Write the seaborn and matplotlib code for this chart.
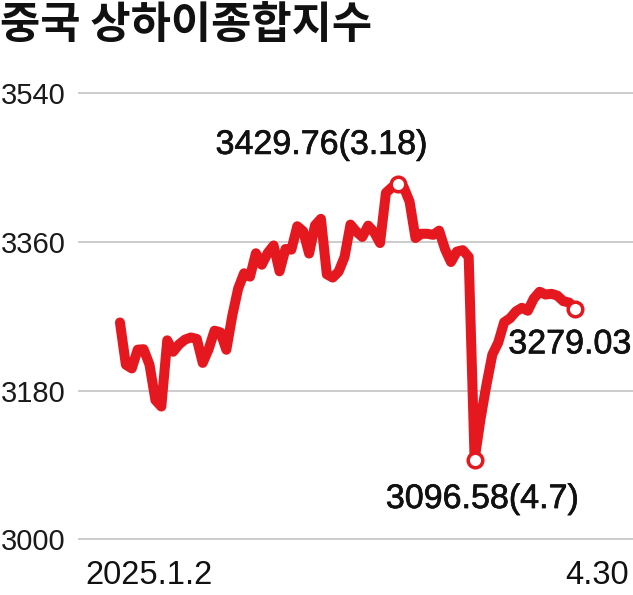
import numpy as np
import pandas as pd
import seaborn as sns
import matplotlib.pyplot as plt
import matplotlib.patheffects as pe

sns.set_theme(style='white')
plt.rcParams['font.family'] = ['Liberation Sans', 'DejaVu Sans']

# 상하이종합지수 일별 종가 (2025.1.2 ~ 4.30)
fechas = ['1.2', '1.3', '1.6', '1.7', '1.8', '1.9', '1.10', '1.13', '1.14', '1.15',
          '1.16', '1.17', '1.20', '1.21', '1.22', '1.23', '1.24', '1.27',
          '2.5', '2.6', '2.7', '2.10', '2.11', '2.12', '2.13', '2.14', '2.17', '2.18',
          '2.19', '2.20', '2.21', '2.24', '2.25', '2.26', '2.27', '2.28',
          '3.3', '3.4', '3.5', '3.6', '3.7', '3.10', '3.11', '3.12', '3.13', '3.14',
          '3.17', '3.18', '3.19', '3.20', '3.21', '3.24', '3.25', '3.26', '3.27', '3.28',
          '3.31', '4.1', '4.2', '4.3', '4.7', '4.8', '4.9', '4.10', '4.11', '4.14',
          '4.15', '4.16', '4.17', '4.18', '4.21', '4.22', '4.23', '4.24', '4.25', '4.28',
          '4.29', '4.30']
cierre = [3262.56, 3211.43, 3206.92, 3229.64, 3230.17, 3211.39, 3168.52, 3160.76, 3240.94, 3227.12,
          3236.03, 3241.82, 3244.38, 3242.62, 3213.62, 3230.16, 3252.63, 3250.60,
          3229.49, 3270.66, 3303.67, 3322.17, 3318.06, 3346.39, 3332.48, 3346.72, 3355.83, 3324.49,
          3351.54, 3350.78, 3379.11, 3373.03, 3346.04, 3380.21, 3388.06, 3320.90,
          3316.93, 3324.21, 3341.96, 3381.10, 3372.55, 3366.16, 3379.83, 3371.92, 3358.73, 3419.56,
          3426.13, 3429.76, 3426.43, 3408.95, 3364.83, 3370.03, 3369.98, 3368.70, 3373.75, 3351.31,
          3335.75, 3348.44, 3350.13, 3342.01, 3096.58, 3145.55, 3186.81, 3223.64, 3238.23, 3262.81,
          3267.66, 3276.00, 3280.34, 3276.73, 3291.43, 3299.76, 3296.36, 3297.29, 3295.06, 3288.41,
          3286.65, 3279.03]

y_ticks = [3000, 3180, 3360, 3540]
destacados = {'3.18': '3429.76(3.18)', '4.7': '3096.58(4.7)', '4.30': '3279.03'}

df = pd.DataFrame({'fecha': fechas, 'cierre': cierre})
df['dia'] = np.arange(len(df))

rojo = '#e6181f'
fig = plt.figure(figsize=(6.33, 5.95), dpi=100)
ax = fig.add_axes([0.1232, 0.0867, 0.8768, 0.7633])

sns.lineplot(data=df, x='dia', y='cierre', ax=ax, color=rojo, linewidth=7.2,
             solid_joinstyle='round', solid_capstyle='round')

ax.set_xlim(-7.1, 86.8)
ax.set_ylim(2995, 3545)
ax.set_yticks(y_ticks)
ax.set_yticklabels([str(t) for t in y_ticks])
ax.set_xticks([])
ax.grid(axis='y', color='#c8c8c8', linewidth=1.3)
ax.set_axisbelow(True)
ax.tick_params(axis='y', length=0, pad=9, labelsize=21, labelcolor='#1a1a1a')
for s in ax.spines.values():
    s.set_visible(False)
ax.set_xlabel('')
ax.set_ylabel('')

# 마커 + 주석 (trazo fino para que se vea un poco más grueso, como en el original)
grueso = [pe.withStroke(linewidth=0.5, foreground='#111111')]
offsets = {'3.18': (-76, 39), '4.7': (8, -40), '4.30': (-5, -36)}
for f, txt in destacados.items():
    fila = df[df['fecha'] == f].iloc[0]
    ax.plot(fila['dia'], fila['cierre'], 'o', ms=10.5, mfc='white', mec=rojo, mew=2.5, zorder=5)
    ax.annotate(txt, (fila['dia'], fila['cierre']), xytext=offsets[f], textcoords='offset pixels',
                ha='center', va='center', fontsize=24.5, color='#111111', path_effects=grueso)

fig.text(85 / 633, 1 - 575 / 595, '2025.1.2', ha='left', va='center', fontsize=23.5, color='#111111')
fig.text(629 / 633, 1 - 575 / 595, '4.30', ha='right', va='center', fontsize=23.5, color='#111111')

fig.text(0.0, 1 - 25 / 595, '중국 상하이종합지수', ha='left', va='center', fontsize=31.5,
         fontweight='bold', family=['Noto Sans CJK KR', 'DejaVu Sans'], color='#111111')

fig.savefig('out.png', dpi=100)
